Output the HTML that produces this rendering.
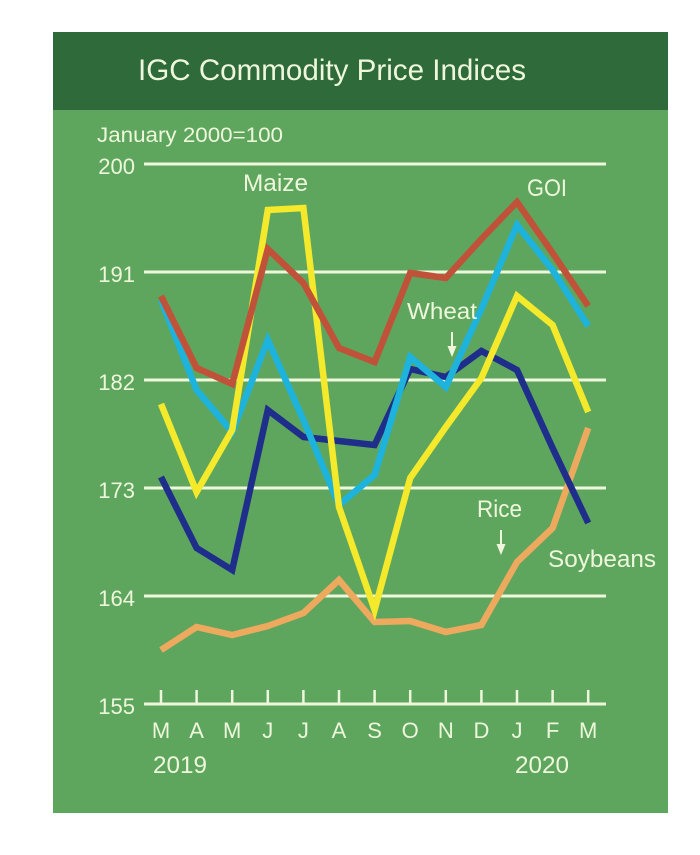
<!DOCTYPE html>
<html>
<head>
<meta charset="utf-8">
<style>
html,body{margin:0;padding:0;background:#ffffff;}
svg{display:block;}
text{font-family:"Liberation Sans",sans-serif;fill:#eef7dc;}
</style>
</head>
<body>
<svg width="700" height="855" viewBox="0 0 700 855" xmlns="http://www.w3.org/2000/svg">
  <rect x="0" y="0" width="700" height="855" fill="#ffffff"/>
  <rect x="53" y="32" width="615" height="781" fill="#5ea65e"/>
  <rect x="53" y="32" width="615" height="78" fill="#2f6b3a"/>
  <text x="138" y="80" font-size="30" textLength="388" lengthAdjust="spacingAndGlyphs">IGC Commodity Price Indices</text>
  <text x="97" y="142" font-size="21" textLength="186" lengthAdjust="spacingAndGlyphs">January 2000=100</text>

  <!-- gridlines -->
  <g stroke="#eef7dc" stroke-width="3">
    <line x1="144" y1="164" x2="606" y2="164"/>
    <line x1="144" y1="272" x2="606" y2="272"/>
    <line x1="144" y1="380" x2="606" y2="380"/>
    <line x1="144" y1="488" x2="606" y2="488"/>
    <line x1="144" y1="596" x2="606" y2="596"/>
    <line x1="144" y1="704" x2="606" y2="704"/>
  </g>
  <g stroke="#eef7dc" stroke-width="2.5">
    <line x1="161" y1="690" x2="161" y2="704"/>
    <line x1="196.6" y1="690" x2="196.6" y2="704"/>
    <line x1="232.2" y1="690" x2="232.2" y2="704"/>
    <line x1="267.8" y1="690" x2="267.8" y2="704"/>
    <line x1="303.4" y1="690" x2="303.4" y2="704"/>
    <line x1="339" y1="690" x2="339" y2="704"/>
    <line x1="374.6" y1="690" x2="374.6" y2="704"/>
    <line x1="410.2" y1="690" x2="410.2" y2="704"/>
    <line x1="445.8" y1="690" x2="445.8" y2="704"/>
    <line x1="481.4" y1="690" x2="481.4" y2="704"/>
    <line x1="517" y1="690" x2="517" y2="704"/>
    <line x1="552.6" y1="690" x2="552.6" y2="704"/>
    <line x1="588.2" y1="690" x2="588.2" y2="704"/>
  </g>

  <!-- y labels -->
  <g font-size="22" text-anchor="end">
    <text x="135" y="174">200</text>
    <text x="135" y="282">191</text>
    <text x="135" y="390">182</text>
    <text x="135" y="498">173</text>
    <text x="135" y="606">164</text>
    <text x="135" y="714">155</text>
  </g>

  <!-- month labels -->
  <g font-size="22" text-anchor="middle">
    <text x="161" y="738">M</text>
    <text x="196.6" y="738">A</text>
    <text x="232.2" y="738">M</text>
    <text x="267.8" y="738">J</text>
    <text x="303.4" y="738">J</text>
    <text x="339" y="738">A</text>
    <text x="374.6" y="738">S</text>
    <text x="410.2" y="738">O</text>
    <text x="445.8" y="738">N</text>
    <text x="481.4" y="738">D</text>
    <text x="517" y="738">J</text>
    <text x="552.6" y="738">F</text>
    <text x="588.2" y="738">M</text>
  </g>
  <text x="153" y="773" font-size="24" textLength="54" lengthAdjust="spacingAndGlyphs">2019</text>
  <text x="515" y="773" font-size="24" textLength="54" lengthAdjust="spacingAndGlyphs">2020</text>

  <!-- series -->
  <g fill="none" stroke-width="6.5" stroke-linejoin="miter" stroke-linecap="butt">
    <!-- Rice -->
    <polyline stroke="#eda95e" points="161,650 196.6,627 232.2,635 267.8,626 303.4,613 339,580 374.6,622 410.2,621 445.8,632 481.4,625 517,562 552.6,528 588.2,428"/>
    <!-- Soybeans -->
    <polyline stroke="#1f2e8a" points="161,477 196.6,548 232.2,570 267.8,410 303.4,437 339,441 374.6,445 410.2,369 445.8,377 481.4,351 517,370 552.6,448 588.2,523"/>
    <!-- Wheat -->
    <polyline stroke="#1db3dc" points="161,300 196.6,390 232.2,432 267.8,340 303.4,420 339,505 374.6,475 410.2,357 445.8,387 481.4,309 517,225 552.6,270 588.2,326"/>
    <!-- Maize -->
    <polyline stroke="#f4e92a" points="161,404 196.6,492 232.2,430 267.8,210 303.4,208 339,507 374.6,610 410.2,478 445.8,427 481.4,378 517,296 552.6,325 588.2,412"/>
    <!-- GOI -->
    <polyline stroke="#c1523a" points="161,296 196.6,368 232.2,384 267.8,249 303.4,283 339,348 374.6,362 410.2,273 445.8,278 481.4,239 517,202 552.6,253 588.2,306"/>
  </g>

  <!-- series labels -->
  <text x="243" y="191" font-size="24" textLength="65" lengthAdjust="spacingAndGlyphs">Maize</text>
  <text x="527" y="196" font-size="24" textLength="40" lengthAdjust="spacingAndGlyphs">GOI</text>
  <text x="407" y="319" font-size="23" textLength="70" lengthAdjust="spacingAndGlyphs">Wheat</text>
  <text x="477" y="517" font-size="24" textLength="45" lengthAdjust="spacingAndGlyphs">Rice</text>
  <text x="548" y="567" font-size="24" textLength="108" lengthAdjust="spacingAndGlyphs">Soybeans</text>

  <!-- arrows -->
  <line x1="452" y1="332" x2="452" y2="348" stroke="#eef7dc" stroke-width="2"/>
  <polygon points="447.5,346 456.5,346 452,357" fill="#eef7dc"/>
  <line x1="501" y1="530" x2="501" y2="546" stroke="#eef7dc" stroke-width="2"/>
  <polygon points="496.5,544 505.5,544 501,555" fill="#eef7dc"/>
</svg>
</body>
</html>
